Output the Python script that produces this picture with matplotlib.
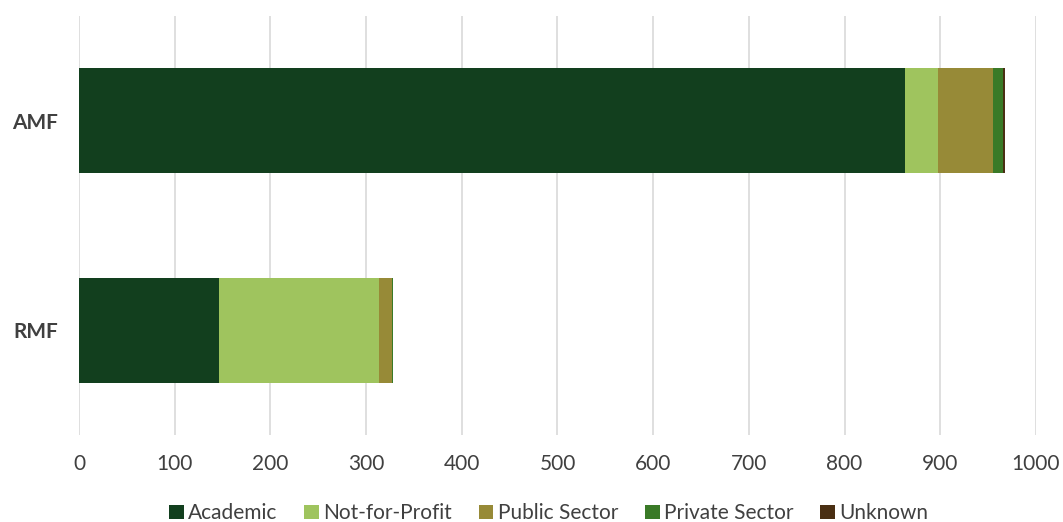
import matplotlib.pyplot as plt

# data
programmes = ["AMF", "RMF"]
sectors = ["Academic", "Not-for-Profit", "Public Sector", "Private Sector", "Unknown"]
academic = [863, 146]
not_for_profit = [35, 167]
public_sector = [57, 14]
private_sector = [10, 1]
unknown = [3, 0]

colors = ["#123F1E", "#9FC45E", "#978A37", "#3A7A27", "#4A2F13"]

plt.rcParams['font.family'] = ['Lato', 'DejaVu Sans']

fig = plt.figure(figsize=(10.63, 5.22), dpi=100)
ax = fig.add_axes([0.0743, 0.1667, 0.9003, 0.8026])

series = [academic, not_for_profit, public_sector, private_sector, unknown]
ypos = list(range(len(programmes)))
left = [0] * len(programmes)
for name, vals, col in zip(sectors, series, colors):
    ax.barh(ypos, vals, left=left, height=0.5, color=col, label=name)
    left = [l + v for l, v in zip(left, vals)]

ax.set_xlim(0, 1000)
ax.set_ylim(1.5, -0.5)
ax.set_xticks(range(0, 1001, 100))
ax.set_yticks(ypos)
ax.set_yticklabels(programmes, fontweight='bold')
ax.tick_params(axis='x', length=0, pad=14, labelsize=15, labelcolor='#404040')
ax.tick_params(axis='y', length=0, pad=15, labelsize=15, labelcolor='#404040')
ax.grid(axis='x', color='#d9d9d9', linewidth=1.2)
ax.set_axisbelow(True)
for s in ax.spines.values():
    s.set_visible(False)

fig.legend(loc='lower center', bbox_to_anchor=(0.516, -0.038), ncol=5, frameon=False,
           fontsize=15, handlelength=0.7, handleheight=0.7, handletextpad=0.2,
           columnspacing=1.3, labelcolor='#404040')

fig.savefig("out.png", dpi=100)
